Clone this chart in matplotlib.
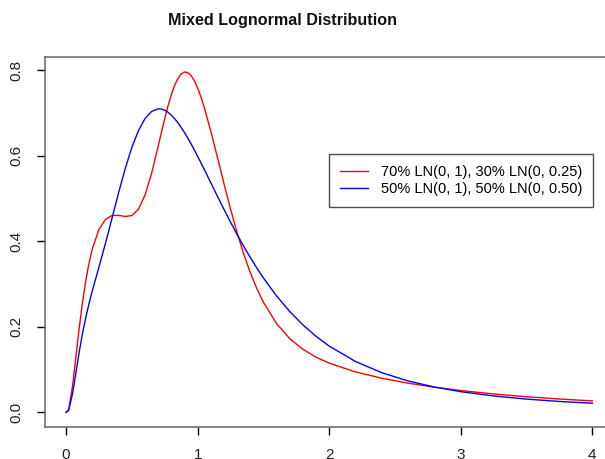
import matplotlib
matplotlib.use("Agg")
import matplotlib.pyplot as plt

plt.rcParams['font.family'] = ['Liberation Sans', 'DejaVu Sans']

# densities
x = [0, 0.02, 0.05, 0.075, 0.1, 0.125, 0.15, 0.175, 0.2, 0.25, 0.3, 0.35,
     0.4, 0.45, 0.5, 0.55, 0.6, 0.65, 0.7, 0.725, 0.75, 0.775, 0.8, 0.825,
     0.85, 0.875, 0.9, 0.925, 0.95, 0.975, 1.0, 1.025, 1.05, 1.1, 1.15, 1.2,
     1.25, 1.3, 1.35, 1.4, 1.45, 1.5, 1.6, 1.7, 1.8, 1.9, 2.0, 2.2, 2.4, 2.6,
     2.8, 3.0, 3.25, 3.5, 3.75, 4.0]

mix_70_30 = [0, 0.0066, 0.0629, 0.1299, 0.1971, 0.2572, 0.3079, 0.3493,
             0.3824, 0.4273, 0.4510, 0.4601, 0.4603, 0.4577, 0.4598, 0.4745,
             0.5075, 0.5584, 0.6216, 0.6545, 0.6864, 0.7162, 0.7423, 0.7639,
             0.7801, 0.7907, 0.7953, 0.7940, 0.7870, 0.7748, 0.7580, 0.7371,
             0.7130, 0.6574, 0.5966, 0.5347, 0.4750, 0.4199, 0.3703, 0.3267,
             0.2892, 0.2572, 0.2074, 0.1723, 0.1474, 0.1289, 0.1149, 0.0945,
             0.0797, 0.0681, 0.0587, 0.0509, 0.0429, 0.0364, 0.0311, 0.0267]

mix_50_50 = [0, 0.0047, 0.0449, 0.0928, 0.1409, 0.1843, 0.2219, 0.2548,
             0.2844, 0.3394, 0.3954, 0.4543, 0.5138, 0.5700, 0.6190, 0.6582,
             0.6864, 0.7031, 0.7093, 0.7087, 0.7060, 0.7012, 0.6946, 0.6864,
             0.6768, 0.6659, 0.6540, 0.6411, 0.6275, 0.6132, 0.5984, 0.5833,
             0.5679, 0.5367, 0.5054, 0.4746, 0.4446, 0.4157, 0.3881, 0.3619,
             0.3372, 0.3140, 0.2720, 0.2356, 0.2043, 0.1776, 0.1548, 0.1188,
             0.0926, 0.0733, 0.0591, 0.0483, 0.0383, 0.0309, 0.0254, 0.0212]

labels = ['70% LN(0, 1), 30% LN(0, 0.25)', '50% LN(0, 1), 50% LN(0, 0.50)']
xticks = [0, 1, 2, 3, 4]
yticks = [0.0, 0.2, 0.4, 0.6, 0.8]

fig = plt.figure(figsize=(6.05, 4.59), dpi=100)
ax = fig.add_axes([45 / 605, 1 - 426.7 / 459, 568.4 / 605, 370 / 459])

ax.plot(x, mix_70_30, color='#ff0000', linewidth=1.0, label=labels[0])
ax.plot(x, mix_50_50, color='#0000ff', linewidth=1.0, label=labels[1])

ax.set_xlim(-0.16, 4.16)
ax.set_ylim(-0.0336, 0.8311)
ax.set_xticks(xticks)
ax.set_xticklabels([str(t) for t in xticks])
ax.set_yticks(yticks)
ax.set_yticklabels(['%.1f' % t for t in yticks], rotation=90, va='center')
ax.tick_params(direction='out', length=6, width=1, labelsize=11,
               color='black', labelcolor='#222222', pad=9.5)
for s in ax.spines.values():
    s.set_color('#666666')
    s.set_linewidth(1.1)

leg = ax.legend(loc='upper left', bbox_to_anchor=(329 / 605, 1 - 154 / 459),
                bbox_transform=fig.transFigure, fontsize=10.5, frameon=True,
                fancybox=False, borderaxespad=0, borderpad=0.75,
                handlelength=1.9, handletextpad=0.9, labelspacing=0.2)
leg.get_frame().set_edgecolor('#222222')
leg.get_frame().set_linewidth(1.0)

fig.text(283 / 605, 1 - 21 / 459, 'Mixed Lognormal Distribution',
         ha='center', va='center', fontsize=11.6, fontweight='bold',
         color='#111111')

fig.savefig('out.png', dpi=100)
